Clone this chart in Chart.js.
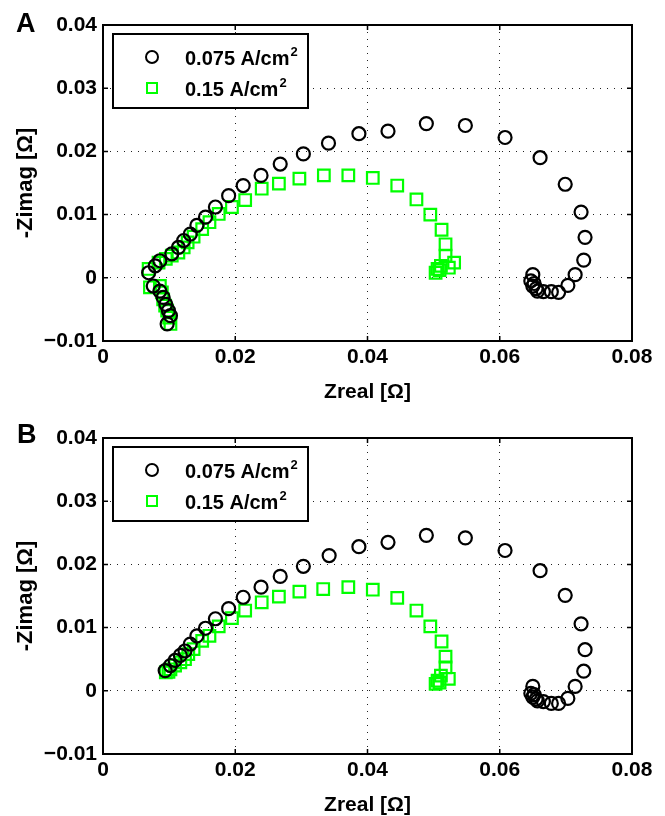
<!DOCTYPE html>
<html>
<head>
<meta charset="utf-8">
<script src="https://cdn.jsdelivr.net/npm/chart.js@4.4.1/dist/chart.umd.min.js"></script>
<style>
  html, body { margin: 0; padding: 0; background: #fff; overflow: hidden; }
  body { width: 665px; height: 816px; position: relative; }
  .panel { position: absolute; left: 0; width: 665px; height: 413px; }
  .letter { position: absolute; font: bold 27px "Liberation Sans", Arial, sans-serif; color: #000; }
</style>
</head>
<body>
<div class="panel" style="top:0"><canvas id="chartA" width="665" height="413"></canvas></div>
<div class="panel" style="top:413px"><canvas id="chartB" width="665" height="413"></canvas></div>
<div class="letter" style="left:16px; top:8px">A</div>
<div class="letter" style="left:17px; top:419px">B</div>
<script>
const seriesLabels = ["0.075 A/cm", "0.15 A/cm"];
const xTicks = [0, 0.02, 0.04, 0.06, 0.08];
const xTickLabels = ["0", "0.02", "0.04", "0.06", "0.08"];
const yTicks = [-0.01, 0, 0.01, 0.02, 0.03, 0.04];
const yTickLabels = ["\u22120.01", "0", "0.01", "0.02", "0.03", "0.04"];

// panel A, 0.075 A/cm2
const aLowZreal = [0.0097, 0.0102, 0.0099, 0.0095, 0.0091, 0.0086, 0.0076, 0.0069, 0.0079, 0.0086, 0.0104, 0.0114, 0.0122, 0.0132, 0.0142, 0.0155, 0.0170, 0.0190, 0.0212, 0.0239, 0.0268, 0.0303, 0.0341, 0.0387, 0.0431, 0.0489, 0.0548, 0.0608, 0.0661, 0.0699, 0.0723, 0.0729, 0.0727, 0.0714, 0.0703, 0.0689, 0.0678, 0.0666, 0.0657, 0.0650, 0.0647, 0.0650, 0.0652, 0.0655];
const aLowZimag = [-0.0073, -0.0060, -0.0052, -0.0042, -0.0031, -0.0021, -0.0013, 0.0008, 0.0019, 0.0027, 0.0038, 0.0048, 0.0059, 0.0069, 0.0083, 0.0096, 0.0112, 0.0130, 0.0146, 0.0162, 0.0180, 0.0196, 0.0213, 0.0228, 0.0232, 0.0244, 0.0241, 0.0222, 0.0190, 0.0148, 0.0104, 0.0064, 0.0028, 0.0005, -0.0012, -0.0023, -0.0022, -0.0022, -0.0021, -0.0013, -0.0005, 0.0005, -0.0009, -0.0017];
// panel A, 0.15 A/cm2
const aHighZreal = [0.0102, 0.0100, 0.0097, 0.0094, 0.0091, 0.0089, 0.0086, 0.0071, 0.0069, 0.0084, 0.0095, 0.0104, 0.0114, 0.0122, 0.0128, 0.0137, 0.0150, 0.0161, 0.0175, 0.0195, 0.0215, 0.0240, 0.0266, 0.0297, 0.0334, 0.0371, 0.0408, 0.0445, 0.0474, 0.0495, 0.0512, 0.0518, 0.0518, 0.0531, 0.0523, 0.0511, 0.0509, 0.0506, 0.0503];
const aHighZimag = [-0.0073, -0.0063, -0.0052, -0.0044, -0.0034, -0.0023, -0.0013, -0.0015, 0.0014, 0.0024, 0.0030, 0.0035, 0.0040, 0.0048, 0.0056, 0.0065, 0.0077, 0.0088, 0.0101, 0.0112, 0.0123, 0.0141, 0.0149, 0.0157, 0.0162, 0.0162, 0.0158, 0.0146, 0.0124, 0.0100, 0.0076, 0.0053, 0.0035, 0.0024, 0.0016, 0.0019, 0.0012, 0.0014, 0.0008];

// panel B, 0.075 A/cm2
const bLowZreal = [0.0094, 0.0102, 0.0109, 0.0117, 0.0124, 0.0132, 0.0142, 0.0155, 0.0170, 0.0190, 0.0212, 0.0239, 0.0268, 0.0303, 0.0342, 0.0387, 0.0431, 0.0489, 0.0548, 0.0608, 0.0661, 0.0699, 0.0723, 0.0729, 0.0727, 0.0714, 0.0703, 0.0689, 0.0678, 0.0666, 0.0657, 0.0650, 0.0647, 0.0650, 0.0652, 0.0655];
const bLowZimag = [0.0032, 0.0040, 0.0048, 0.0056, 0.0063, 0.0074, 0.0087, 0.0099, 0.0114, 0.0130, 0.0148, 0.0164, 0.0181, 0.0197, 0.0214, 0.0228, 0.0235, 0.0246, 0.0242, 0.0222, 0.0190, 0.0151, 0.0106, 0.0065, 0.0031, 0.0007, -0.0012, -0.0020, -0.0020, -0.0017, -0.0016, -0.0010, -0.0004, 0.0007, -0.0006, -0.0013];
// panel B, 0.15 A/cm2
const bHighZreal = [0.0095, 0.0099, 0.0102, 0.0109, 0.0117, 0.0124, 0.0129, 0.0137, 0.0150, 0.0161, 0.0175, 0.0195, 0.0215, 0.0240, 0.0266, 0.0297, 0.0333, 0.0371, 0.0408, 0.0445, 0.0474, 0.0495, 0.0512, 0.0518, 0.0518, 0.0523, 0.0511, 0.0506, 0.0503, 0.0509];
const bHighZimag = [0.0029, 0.0030, 0.0034, 0.0040, 0.0045, 0.0050, 0.0058, 0.0066, 0.0079, 0.0087, 0.0102, 0.0115, 0.0127, 0.0140, 0.0149, 0.0157, 0.0161, 0.0164, 0.0160, 0.0147, 0.0127, 0.0102, 0.0078, 0.0054, 0.0037, 0.0019, 0.0024, 0.0016, 0.0011, 0.0013];

const FONT = "'Liberation Sans', Arial, sans-serif";
const GREEN = "#00ff00";

function toPoints(xs, ys) {
    return xs.map((x, i) => ({ x, y: ys[i] }));
}

// MATLAB style box, inner ticks and boxed legend
const matlabAxes = {
    id: "matlabAxes",
    afterDraw(chart) {
        const { ctx, chartArea: a, scales } = chart;
        ctx.save();
        ctx.strokeStyle = "#000";
        ctx.lineWidth = 1.5;
        ctx.beginPath();
        xTicks.forEach(v => {
            const px = scales.x.getPixelForValue(v);
            ctx.moveTo(px, a.bottom); ctx.lineTo(px, a.bottom - 5);
            ctx.moveTo(px, a.top); ctx.lineTo(px, a.top + 5);
        });
        yTicks.forEach(v => {
            const py = scales.y.getPixelForValue(v);
            ctx.moveTo(a.left, py); ctx.lineTo(a.left + 5, py);
            ctx.moveTo(a.right, py); ctx.lineTo(a.right - 5, py);
        });
        ctx.stroke();
        ctx.lineWidth = 2;
        ctx.strokeRect(a.left, a.top, a.right - a.left, a.bottom - a.top);

        // legend
        const lx = a.left + 10, ly = a.top + 9;
        ctx.fillStyle = "#fff";
        ctx.fillRect(lx, ly, 195, 74);
        ctx.strokeRect(lx, ly, 195, 74);
        chart.data.datasets.forEach((ds, i) => {
            const my = ly + 23 + i * 31;
            const mx = lx + 39;
            ctx.strokeStyle = ds.borderColor;
            ctx.lineWidth = 2;
            if (ds.pointStyle === "circle") {
                ctx.beginPath();
                ctx.arc(mx, my, 6, 0, Math.PI * 2);
                ctx.stroke();
            } else {
                ctx.strokeRect(mx - 5, my - 5, 10, 10);
            }
            ctx.fillStyle = "#000";
            ctx.font = "bold 20px " + FONT;
            ctx.textBaseline = "alphabetic";
            ctx.textAlign = "left";
            const tx = lx + 72, ty = my + 8;
            ctx.fillText(ds.label, tx, ty);
            const w = ctx.measureText(ds.label).width;
            ctx.font = "bold 13px " + FONT;
            ctx.fillText("2", tx + w + 1, ty - 9);
        });
        ctx.restore();
    }
};

function makeChart(id, lowX, lowY, highX, highY, plotBottom) {
    const ctx = document.getElementById(id).getContext("2d");
    return new Chart(ctx, {
        type: "scatter",
        data: {
            datasets: [
                {
                    label: seriesLabels[0],
                    data: toPoints(lowX, lowY),
                    pointStyle: "circle",
                    pointRadius: 6.5,
                    borderColor: "#000",
                    backgroundColor: "rgba(0,0,0,0)",
                    borderWidth: 2.2
                },
                {
                    label: seriesLabels[1],
                    data: toPoints(highX, highY),
                    pointStyle: "rect",
                    pointRadius: 8.2,
                    borderColor: GREEN,
                    backgroundColor: "rgba(0,0,0,0)",
                    borderWidth: 2.2
                }
            ]
        },
        options: {
            responsive: false,
            animation: false,
            events: [],
            layout: { padding: { top: 25, right: 33, left: 0, bottom: 0 } },
            plugins: { legend: { display: false }, tooltip: { enabled: false } },
            scales: {
                x: {
                    type: "linear",
                    min: 0, max: 0.08,
                    afterFit: (scale) => { scale.height = 413 - plotBottom; },
                    afterBuildTicks: (scale) => { scale.ticks = xTicks.map(v => ({ value: v })); },
                    ticks: {
                        padding: 4,
                        color: "#000",
                        font: { family: FONT, size: 21, weight: "bold" },
                        callback: (value, index) => xTickLabels[index]
                    },
                    grid: { color: "#222", lineWidth: 1, drawTicks: false },
                    border: { display: false, dash: [1, 6] },
                    title: {
                        display: true,
                        text: "Zreal [\u03A9]",
                        color: "#000",
                        font: { family: FONT, size: 21, weight: "bold" },
                        padding: { top: 0, bottom: 8 }
                    }
                },
                y: {
                    type: "linear",
                    min: -0.01, max: 0.04,
                    afterFit: (scale) => { scale.width = 103; },
                    afterBuildTicks: (scale) => { scale.ticks = yTicks.map(v => ({ value: v })); },
                    ticks: {
                        padding: 6,
                        color: "#000",
                        font: { family: FONT, size: 21, weight: "bold" },
                        callback: (value, index) => yTickLabels[index]
                    },
                    grid: { color: "#222", lineWidth: 1, drawTicks: false },
                    border: { display: false, dash: [1, 6] },
                    title: {
                        display: true,
                        text: "-Zimag [\u03A9]",
                        color: "#000",
                        font: { family: FONT, size: 22, weight: "bold" },
                        padding: { top: 13, bottom: 0 }
                    }
                }
            }
        },
        plugins: [matlabAxes]
    });
}

makeChart("chartA", aLowZreal, aLowZimag, aHighZreal, aHighZimag, 341);
makeChart("chartB", bLowZreal, bLowZimag, bHighZreal, bHighZimag, 341);
</script>
</body>
</html>
